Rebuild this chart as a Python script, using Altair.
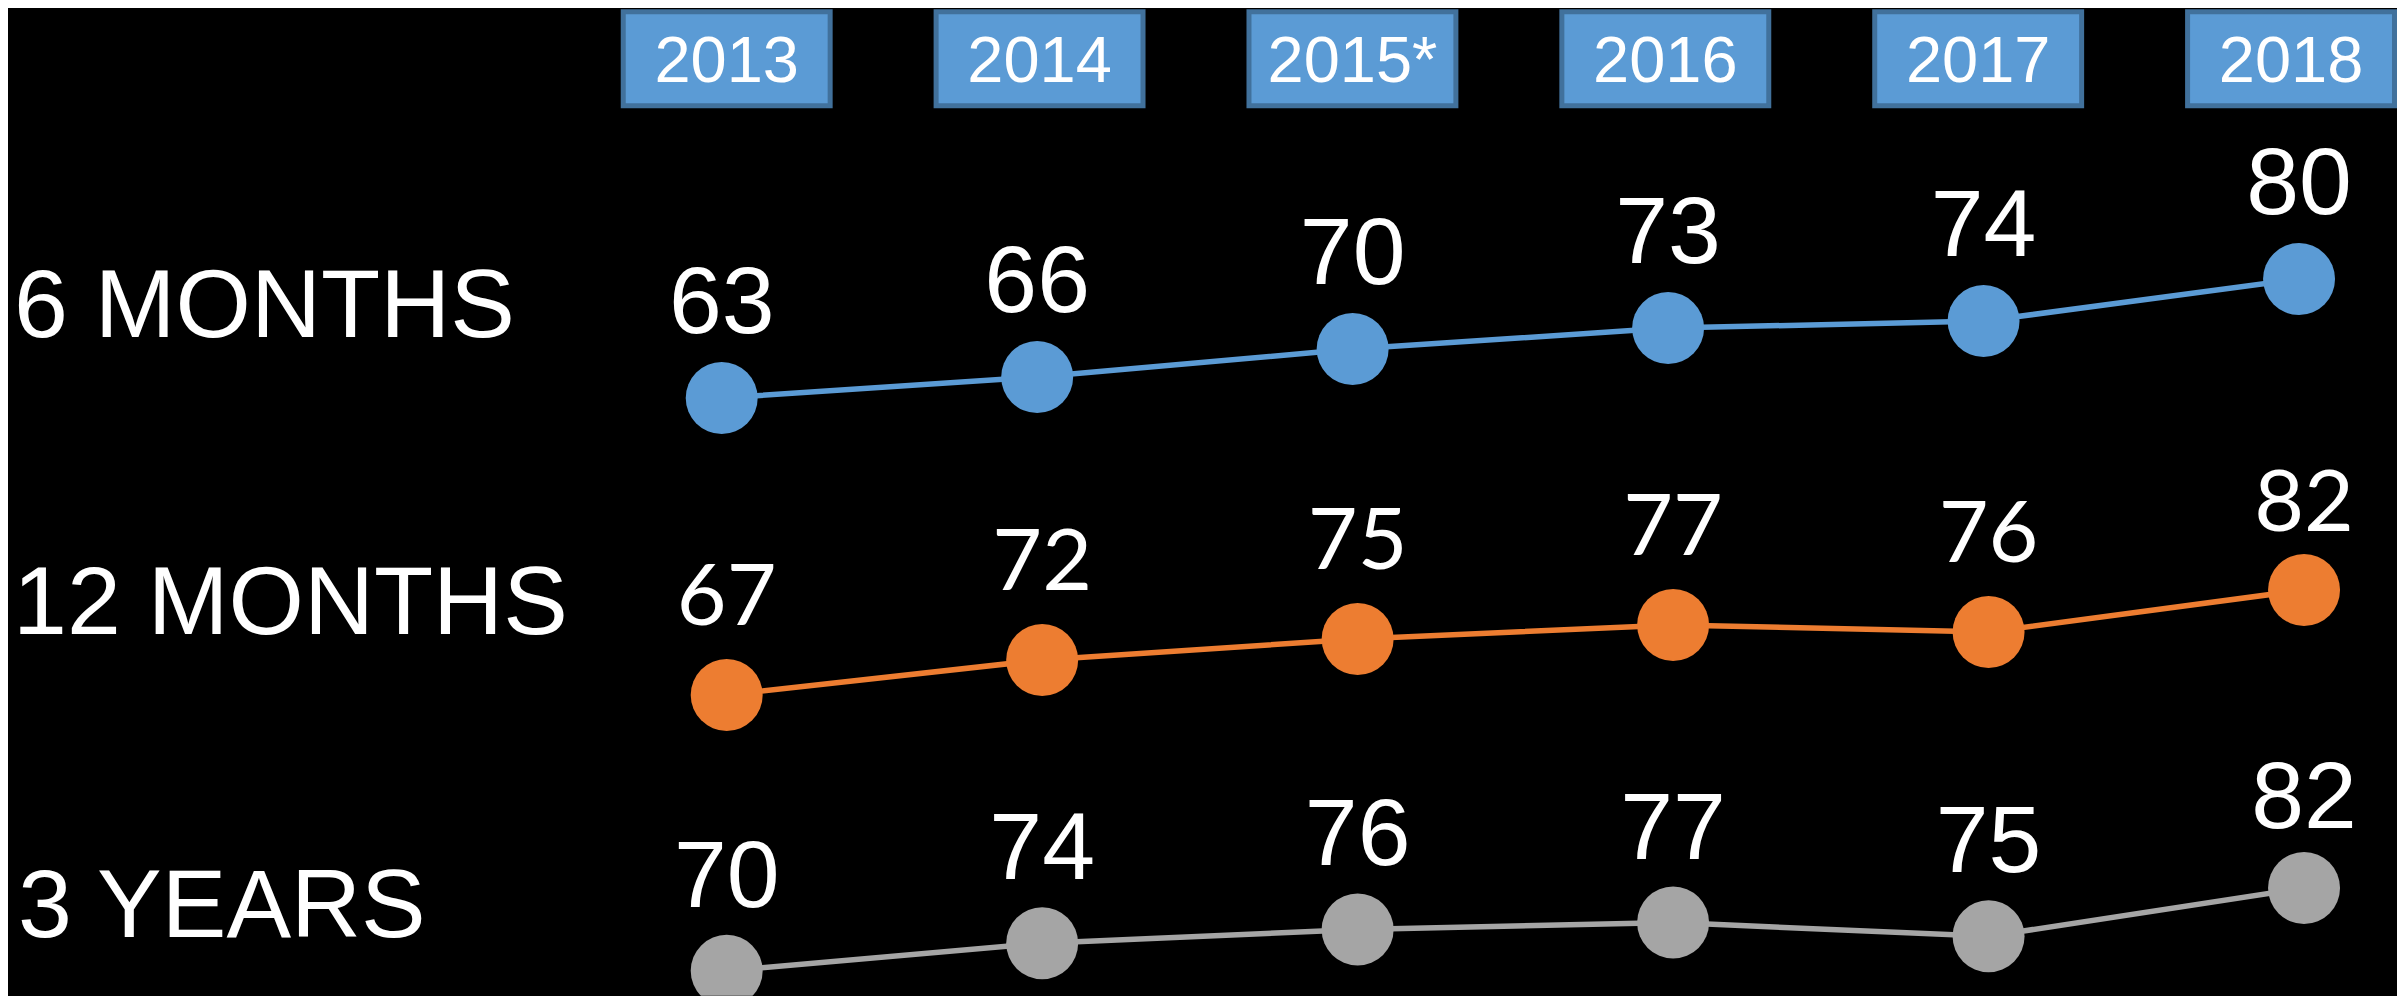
import altair as alt
import pandas as pd

# ---- data ----
years = ["2013", "2014", "2015*", "2016", "2017", "2018"]
six_months = [63, 66, 70, 73, 74, 80]
twelve_months = [67, 72, 75, 77, 76, 82]
three_years = [70, 74, 76, 77, 75, 82]
row_labels = ["6 MONTHS", "12 MONTHS", "3 YEARS"]

BLUE = "#5B9BD5"
ORANGE = "#ED7D31"
GRAY = "#A5A5A5"
BOX_EDGE = "#41719C"
ARIAL = "Liberation Sans, Arial, sans-serif"
CALIBRI = "Lato, Carlito, Calibri, sans-serif"
W = 2389

# ---- header with year boxes ----
hdr_df = pd.DataFrame({"year": years})
hx = alt.X("year:O", sort=years,
           scale=alt.Scale(type="point", domain=years, range=[719, 2284], padding=0),
           axis=None)
outer_shape = "M-1,-0.467 L1,-0.467 L1,0.467 L-1,0.467 Z"
inner_shape = "M-1,-0.4406 L1,-0.4406 L1,0.4406 L-1,0.4406 Z"
box_edge = alt.Chart(hdr_df).mark_point(
    shape=outer_shape, size=212 * 212, filled=True, fill=BOX_EDGE,
    strokeWidth=0, opacity=1, fillOpacity=1
).encode(x=hx, y=alt.value(49.5))
box_fill = alt.Chart(hdr_df).mark_point(
    shape=inner_shape, size=202 * 202, filled=True, fill=BLUE,
    strokeWidth=0, opacity=1, fillOpacity=1
).encode(x=hx, y=alt.value(49.5))
box_txt = alt.Chart(hdr_df).mark_text(
    font=ARIAL, fontSize=65, color="white", align="center", baseline="alphabetic"
).encode(x=hx, y=alt.value(73), text="year:N")
header = alt.layer(box_edge, box_fill, box_txt).properties(width=W, height=130)


def row_panel(values, color, label, label_x, label_y, xrange, ydomain, height,
              font, fsize, dy_main, dy_last, clip=False):
    df = pd.DataFrame({"year": years, "value": values})
    x = alt.X("year:O", sort=years,
              scale=alt.Scale(type="point", domain=years, range=xrange, padding=0),
              axis=None)
    y = alt.Y("value:Q", scale=alt.Scale(domain=ydomain, zero=False, nice=False), axis=None)
    base = alt.Chart(df).encode(x=x, y=y)
    line = base.mark_line(color=color, strokeWidth=5.5)
    pts = base.mark_circle(size=5184, color=color, opacity=1, clip=clip)
    t_main = base.transform_filter(alt.datum.year != "2018").mark_text(
        font=font, fontSize=fsize, color="white", align="center",
        baseline="alphabetic", dy=dy_main
    ).encode(text="value:Q")
    t_last = base.transform_filter(alt.datum.year == "2018").mark_text(
        font=font, fontSize=fsize, color="white", align="center",
        baseline="alphabetic", dy=dy_last
    ).encode(text="value:Q")
    lbl = alt.Chart(pd.DataFrame({"label": [label]})).mark_text(
        font=ARIAL, fontSize=97, color="white", align="left", baseline="alphabetic"
    ).encode(x=alt.value(label_x), y=alt.value(label_y), text="label:N")
    return alt.layer(line, pts, t_main, t_last, lbl).properties(width=W, height=height)


blue = row_panel(six_months, BLUE, row_labels[0], 6, 198, [714, 2292], [57, 100], 301,
                 ARIAL, 95, -65, -65)
orange = row_panel(twelve_months, ORANGE, row_labels[1], 5, 194, [719, 2297],
                   [56.43, 103.43], 329, CALIBRI, 86, -70, -59)
gray = row_panel(three_years, GRAY, row_labels[2], 10, 168, [719, 2297],
                 [66.38, 99.28], 227, ARIAL, 95, -64, -60, clip=True)

chart = alt.vconcat(header, blue, orange, gray, spacing=0, bounds="flush").properties(
    padding=0, background="black"
).configure_view(stroke=None)

chart.save("out.html", embed_options={"renderer": "svg", "actions": False})
